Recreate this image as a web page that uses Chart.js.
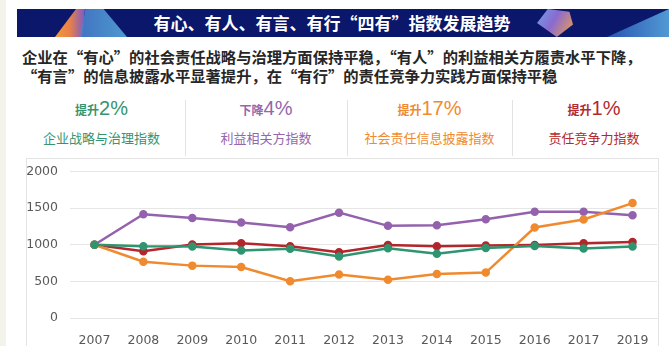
<!DOCTYPE html>
<html>
<head>
<meta charset="utf-8">
<script src="https://cdn.jsdelivr.net/npm/chart.js@4/dist/chart.umd.min.js"></script>
<style>
  body { margin: 0; width: 669px; height: 346px; overflow: hidden; background: #fff; position: relative;
         font-family: "Noto Sans CJK SC", "Noto Sans", sans-serif; }
  .strip { position: absolute; left: 0; top: 0; width: 6px; height: 346px; background: #f3f3ec; }
  .banner { position: absolute; left: 17px; top: 9px; width: 652px; height: 28px; background: #0a176a; overflow: hidden; }
  .shape { position: absolute; top: 0; height: 28px; }
  .title { position: absolute; left: 0; width: 630px; top: 0; line-height: 28px; text-align: center; color: #fff;
           font-weight: bold; font-size: 17px; }
  .sub { position: absolute; left: 22px; top: 47px; font-size: 15.3px; font-weight: bold; color: #262626; line-height: 19px; white-space: nowrap; }
  .col { position: absolute; top: 97px; height: 58px; text-align: center; }
  .col .hd { height: 22px; line-height: 22px; white-space: nowrap; }
  .col .hd b { font-size: 12px; }
  .col .hd span { font-family: "Liberation Sans", Arial, sans-serif; font-size: 20px; }
  .col .lb { margin-top: 10px; font-size: 13px; line-height: 17px; white-space: nowrap; }
  .div { position: absolute; top: 100px; width: 1px; height: 56px; background: #e2e2e2; }
  .box { position: absolute; left: 26px; top: 158px; width: 631px; height: 200px; border: 1px solid #e4e4e4; }
  #wrap { position: absolute; left: 20px; top: 152px; width: 649px; height: 194px; }
</style>
</head>
<body>
<div class="strip"></div>
<div class="banner">
  <div class="shape" style="left:38px;width:30px;background:linear-gradient(90deg,#f39a3a,#e8804a 50%,#7a5ac8);clip-path:polygon(0 100%,70% 0,100% 0,90% 100%);"></div>
  <div class="shape" style="left:58px;width:52px;background:linear-gradient(90deg,#4a7fd0,#5ab0e0);clip-path:polygon(10% 100%,20% 0,55% 0,100% 100%);opacity:0.85;"></div>
  <div class="shape" style="left:520px;width:36px;background:linear-gradient(120deg,#6fa0e8,#8a6ad0 45%,#f0a04a);clip-path:polygon(30% 0,90% 10%,100% 55%,55% 100%,0 50%);"></div>
  <div class="shape" style="left:590px;width:62px;background:linear-gradient(90deg,#2a5ab8,#5aa8e0);clip-path:polygon(0 100%,100% 0,100% 100%);opacity:0.9;"></div>
  <div class="title">有心、有人、有言、有行“四有”指数发展趋势</div>
</div>
<div class="sub">企业在“有心”的社会责任战略与治理方面保持平稳，“有人”的利益相关方履责水平下降，<br>“有言”的信息披露水平显著提升，在“有行”的责任竞争力实践方面保持平稳</div>

<div class="col" style="left:18px;width:167px;color:#35956f;"><div class="hd"><b>提升</b><span>2%</span></div><div class="lb">企业战略与治理指数</div></div>
<div class="div" style="left:185px;"></div>
<div class="col" style="left:185px;width:162px;color:#9467ad;"><div class="hd"><b>下降</b><span>4%</span></div><div class="lb">利益相关方指数</div></div>
<div class="div" style="left:347px;"></div>
<div class="col" style="left:347px;width:165px;color:#f08a2e;"><div class="hd"><b>提升</b><span>17%</span></div><div class="lb">社会责任信息披露指数</div></div>
<div class="div" style="left:512px;"></div>
<div class="col" style="left:512px;width:164px;color:#b3292d;"><div class="hd"><b>提升</b><span>1%</span></div><div class="lb">责任竞争力指数</div></div>

<div class="box"></div>
<div id="wrap"><canvas id="lineChart"></canvas></div>

<script>
var years = ['2007', '2008', '2009', '2010', '2011', '2012', '2013', '2014', '2015', '2016', '2017', '2019'];
var strategy = [1000, 980, 975, 921, 944, 840, 953, 876, 957, 984, 948, 975];
var stakeholder = [1000, 1416, 1366, 1303, 1240, 1438, 1258, 1267, 1348, 1452, 1452, 1402];
var disclosure = [1000, 769, 715, 697, 503, 593, 521, 602, 620, 1236, 1344, 1569];
var competitive = [1000, 912, 1002, 1020, 980, 899, 998, 980, 989, 998, 1020, 1038];
var yTicks = [0, 500, 1000, 1500, 2000];

function line(label, data, color) {
    return {
        label: label,
        data: data,
        borderColor: color,
        backgroundColor: color,
        borderWidth: 2.5,
        pointRadius: 3,
        pointHoverRadius: 3,
        tension: 0
    };
}

var ctx = document.getElementById('lineChart').getContext('2d');

var lineChart = new Chart(ctx, {
    type: 'line',
    data: {
        labels: years,
        datasets: [
            line('企业战略与治理指数', strategy, '#2f9470'),
            line('社会责任信息披露指数', disclosure, '#f08a2e'),
            line('利益相关方指数', stakeholder, '#9462ad'),
            line('责任竞争力指数', competitive, '#b3262b')
        ]
    },
    options: {
        responsive: true,
        maintainAspectRatio: false,
        animation: false,
        layout: { padding: { top: 5, right: 12, left: 0, bottom: 0 } },
        plugins: { legend: { display: false }, tooltip: { enabled: false } },
        scales: {
            x: {
                offset: true,
                grid: { display: false },
                border: { color: '#e6e6e6' },
                ticks: { color: '#595959', font: { size: 12.5, family: 'DejaVu Sans' }, padding: 7 },
                afterFit: function (s) { s.height = 28; }
            },
            y: {
                min: 0,
                max: 2000,
                afterBuildTicks: function (s) { s.ticks = yTicks.map(function (v) { return { value: v }; }); },
                grid: { color: '#e6e6e6', drawTicks: false },
                border: { display: false },
                ticks: {
                    color: '#595959',
                    font: { size: 12.5, family: 'DejaVu Sans' },
                    padding: 12,
                    callback: function (v) { return String(v); }
                },
                afterFit: function (s) { s.width = 50; }
            }
        }
    }
});
</script>
</body>
</html>
